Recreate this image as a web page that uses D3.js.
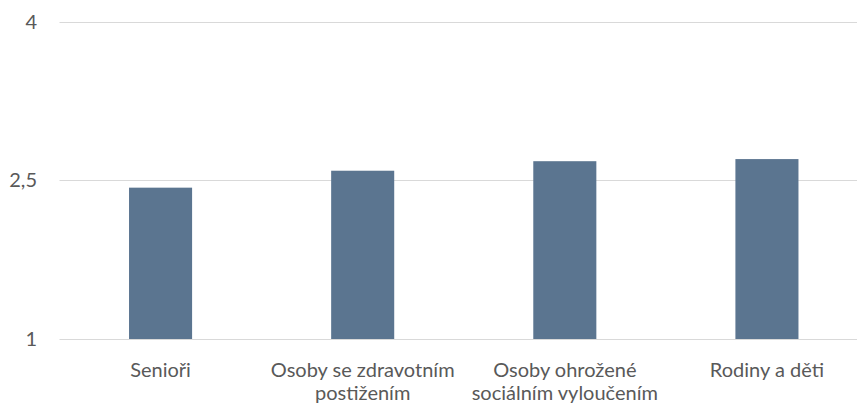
<!DOCTYPE html>
<html><head><meta charset="utf-8">
<script src="https://cdn.jsdelivr.net/npm/d3@7"></script>
<style>body{margin:0;background:#fff}svg{display:block}text{font-family:Lato,"Open Sans",sans-serif;fill:#595959}</style>
</head><body><svg id="c" width="857" height="405"></svg>
<script>
const categories = [["Senioři"], ["Osoby se zdravotním","postižením"], ["Osoby ohrožené","sociálním vyloučením"], ["Rodiny a děti"]];
const values = [2.43, 2.59, 2.68, 2.70];
const yTicks = [1, 2.5, 4];
const yTickLabels = ["1", "2,5", "4"];

const svg = d3.select("#c");
const x = d3.scaleBand().domain(d3.range(categories.length)).range([59.5, 868]).paddingInner(0.688).paddingOuter(0.344);
const y = d3.scaleLinear().domain([1, 4]).range([339, 21.5]);

svg.append("g").selectAll("line").data(yTicks).join("line")
  .attr("x1", 59.5).attr("x2", 868).attr("y1", d => Math.round(y(d)) + 0.5).attr("y2", d => Math.round(y(d)) + 0.5)
  .attr("stroke", "#d9d9d9").attr("stroke-width", 1.2);

svg.append("g").selectAll("text").data(yTicks).join("text")
  .attr("x", 37).attr("y", d => y(d)).attr("dy", "0.35em").attr("text-anchor", "end")
  .attr("font-size", 20).text((d, i) => yTickLabels[i]);

svg.append("g").selectAll("rect").data(values).join("rect")
  .attr("x", (d, i) => x(i)).attr("width", x.bandwidth())
  .attr("y", d => y(d)).attr("height", d => y(1) - y(d))
  .attr("fill", "#5b7590");

const lab = svg.append("g").selectAll("text").data(categories).join("text")
  .attr("text-anchor", "middle").attr("font-size", 20);
lab.each(function(lines, i) {
  const t = d3.select(this);
  lines.forEach((s, j) => t.append("tspan").attr("x", x(i) + x.bandwidth() / 2).attr("y", 376.5 + j * 23.5).text(s));
});
</script></body></html>
